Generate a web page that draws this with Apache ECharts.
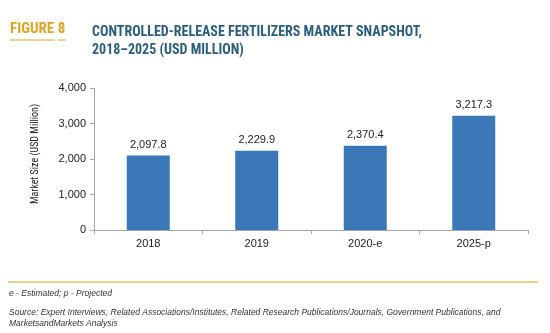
<!DOCTYPE html>
<html>
<head>
<meta charset="utf-8">
<script src="https://cdn.jsdelivr.net/npm/echarts@6/dist/echarts.min.js"></script>
<style>
  html, body { margin: 0; padding: 0; background: #fff; }
  #chart { width: 550px; height: 333px; }
</style>
</head>
<body>
<div id="chart"></div>
<script>
// Market size by year (USD million)
const categories = ['2018', '2019', '2020-e', '2025-p'];
const values = [2097.8, 2229.9, 2370.4, 3217.3];
const yTicks = [0, 1000, 2000, 3000, 4000];

const condensed = '"Liberation Sans Narrow", "Roboto Condensed", "Arial Narrow", Roboto, sans-serif';
const body = '"Liberation Sans", Arial, sans-serif';

const chart = echarts.init(document.getElementById('chart'), null, { renderer: 'canvas' });

const fmt = v => v.toLocaleString('en-US', { minimumFractionDigits: 1, maximumFractionDigits: 1 });

chart.setOption({
  animation: false,
  backgroundColor: '#ffffff',
  grid: { left: 94, right: 22, top: 88, bottom: 103, containLabel: false },
  xAxis: {
    type: 'category',
    data: categories,
    axisLine: { lineStyle: { color: '#a6a6a6', width: 1 } },
    axisTick: { show: true, alignWithLabel: false, length: 4, lineStyle: { color: '#a6a6a6' } },
    axisLabel: { color: '#222', fontFamily: body, fontSize: 11, margin: 8 }
  },
  yAxis: {
    type: 'value',
    min: yTicks[0],
    max: yTicks[yTicks.length - 1],
    interval: 1000,
    name: 'Market Size (USD Million)',
    nameLocation: 'middle',
    nameGap: 54,
    nameTextStyle: { color: '#222', fontFamily: condensed, fontSize: 10, padding: [0, 0, 0, 10] },
    axisLine: { show: true, lineStyle: { color: '#a6a6a6', width: 1 } },
    axisTick: { show: true, length: 4, inside: false, lineStyle: { color: '#a6a6a6' } },
    splitLine: { show: false },
    axisLabel: {
      color: '#222', fontFamily: body, fontSize: 11, margin: 8,
      formatter: v => v.toLocaleString('en-US')
    }
  },
  series: [{
    type: 'bar',
    data: values,
    barWidth: 43,
    itemStyle: { color: '#3a78b7' },
    label: {
      show: true,
      position: 'top',
      distance: 5,
      color: '#222',
      fontFamily: body,
      fontSize: 11,
      formatter: p => fmt(p.value)
    }
  }],
  graphic: [
    {
      type: 'text', left: 10, top: 22,
      style: { text: 'FIGURE 8', fill: '#d9a628', font: 'bold 15px ' + condensed }
    },
    {
      type: 'line', shape: { x1: 10, y1: 40, x2: 55, y2: 40 },
      style: { stroke: '#d9a628', lineWidth: 1 }
    },
    {
      type: 'line', shape: { x1: 58, y1: 40, x2: 66, y2: 40 },
      style: { stroke: '#d9a628', lineWidth: 1 }
    },
    {
      type: 'text', left: 92, top: 23,
      style: {
        text: 'CONTROLLED-RELEASE FERTILIZERS MARKET SNAPSHOT,\n2018\u20132025 (USD MILLION)',
        fill: '#2b5e7c', font: 'bold 14px ' + condensed, lineHeight: 18
      }
    },
    {
      type: 'line', shape: { x1: 8, y1: 282, x2: 538, y2: 282 },
      style: { stroke: '#e8c35a', lineWidth: 1.5 }
    },
    {
      type: 'text', left: 9, top: 289,
      style: { text: 'e - Estimated; p - Projected', fill: '#333', font: 'italic 8.5px ' + body }
    },
    {
      type: 'text', left: 9, top: 307,
      style: {
        text: 'Source: Expert Interviews, Related Associations/Institutes, Related Research Publications/Journals, Government Publications, and\nMarketsandMarkets Analysis',
        fill: '#333', font: 'italic 8.5px ' + body, lineHeight: 11
      }
    }
  ]
});
</script>
</body>
</html>
